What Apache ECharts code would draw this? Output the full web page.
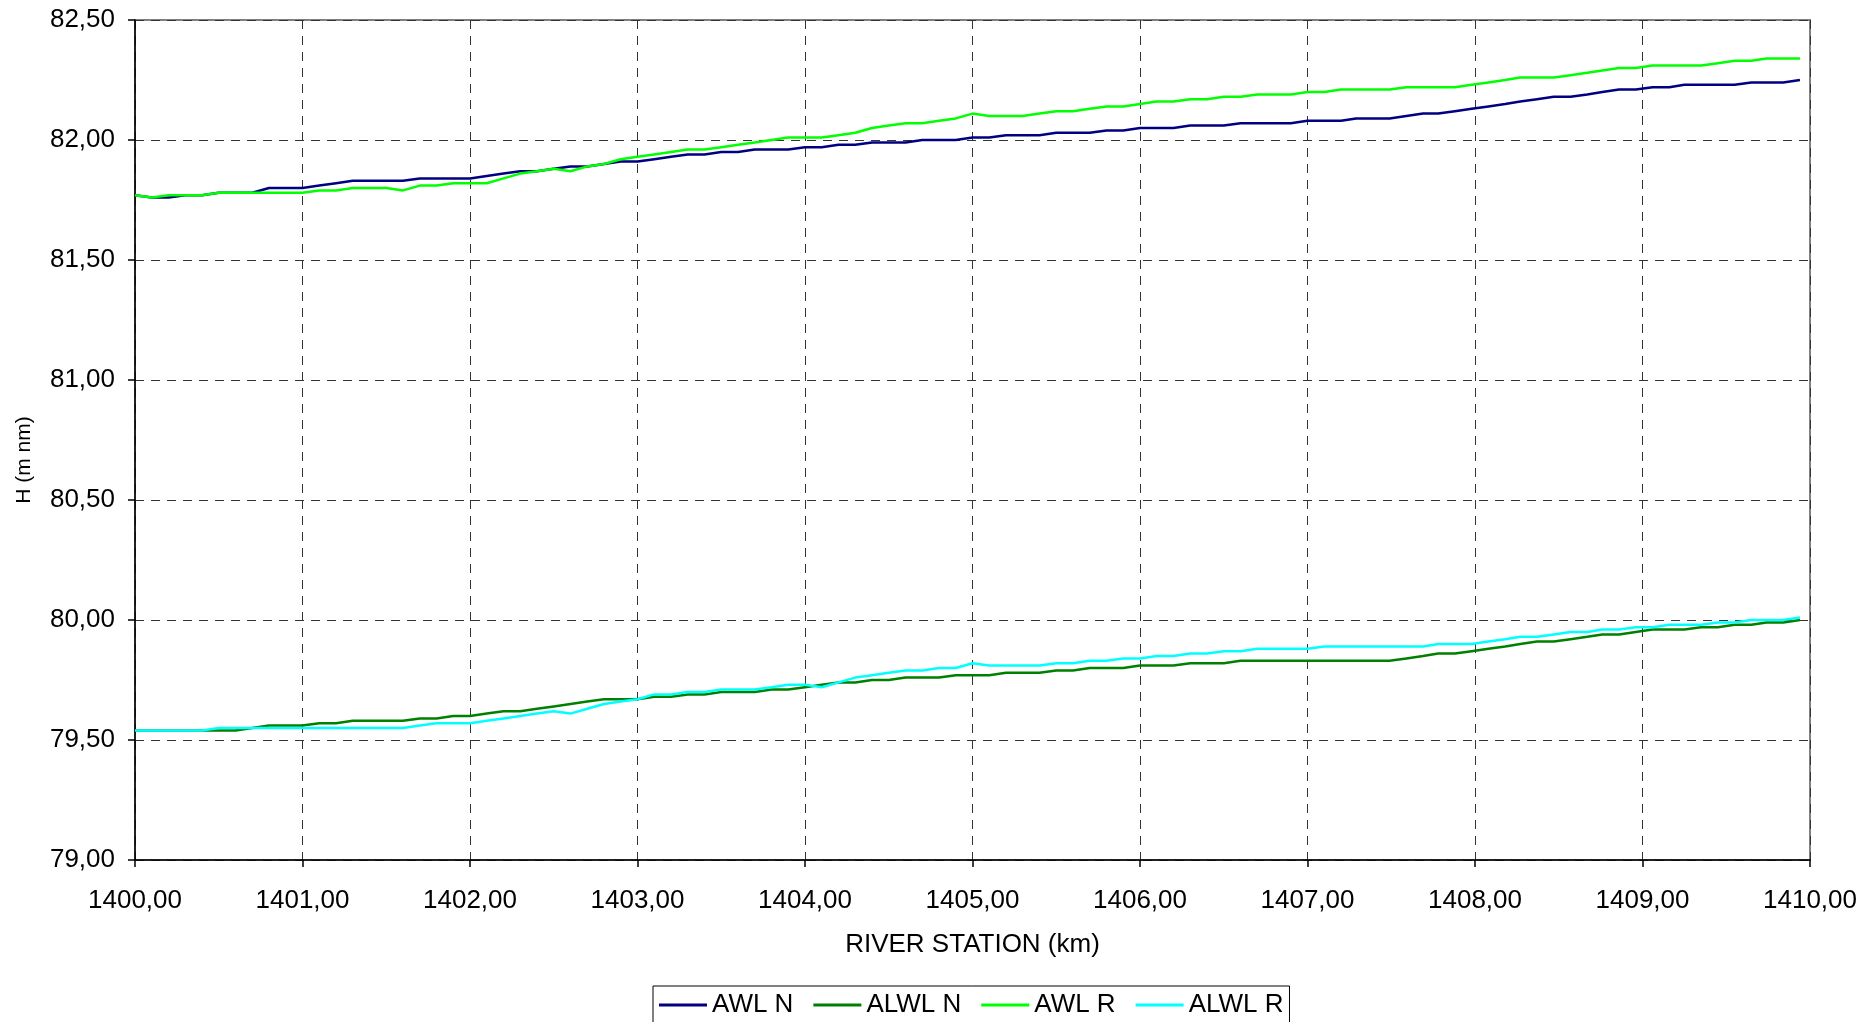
<!DOCTYPE html>
<html>
<head>
<meta charset="utf-8">
<script src="https://cdn.jsdelivr.net/npm/echarts@6/dist/echarts.min.js"></script>
<style>
html,body{margin:0;padding:0;background:#fff;}
#chart{width:1866px;height:1022px;}
</style>
</head>
<body>
<div id="chart"></div>
<script>
// River stations (km)
const stations = [
1400.0,1400.1,1400.2,1400.3,1400.4,1400.5,1400.6,1400.7,1400.8,1400.9,
1401.0,1401.1,1401.2,1401.3,1401.4,1401.5,1401.6,1401.7,1401.8,1401.9,
1402.0,1402.1,1402.2,1402.3,1402.4,1402.5,1402.6,1402.7,1402.8,1402.9,
1403.0,1403.1,1403.2,1403.3,1403.4,1403.5,1403.6,1403.7,1403.8,1403.9,
1404.0,1404.1,1404.2,1404.3,1404.4,1404.5,1404.6,1404.7,1404.8,1404.9,
1405.0,1405.1,1405.2,1405.3,1405.4,1405.5,1405.6,1405.7,1405.8,1405.9,
1406.0,1406.1,1406.2,1406.3,1406.4,1406.5,1406.6,1406.7,1406.8,1406.9,
1407.0,1407.1,1407.2,1407.29,1407.39,1407.49,1407.59,1407.69,1407.78,1407.88,
1407.98,1408.08,1408.18,1408.27,1408.37,1408.47,1408.57,1408.67,1408.76,1408.86,
1408.96,1409.06,1409.16,1409.25,1409.35,1409.45,1409.55,1409.65,1409.74,1409.84,
1409.94
];

const awlN = [
81.77,81.76,81.76,81.77,81.77,81.78,81.78,81.78,81.80,81.80,
81.80,81.81,81.82,81.83,81.83,81.83,81.83,81.84,81.84,81.84,
81.84,81.85,81.86,81.87,81.87,81.88,81.89,81.89,81.90,81.91,
81.91,81.92,81.93,81.94,81.94,81.95,81.95,81.96,81.96,81.96,
81.97,81.97,81.98,81.98,81.99,81.99,81.99,82.00,82.00,82.00,
82.01,82.01,82.02,82.02,82.02,82.03,82.03,82.03,82.04,82.04,
82.05,82.05,82.05,82.06,82.06,82.06,82.07,82.07,82.07,82.07,
82.08,82.08,82.08,82.09,82.09,82.09,82.10,82.11,82.11,82.12,
82.13,82.14,82.15,82.16,82.17,82.18,82.18,82.19,82.20,82.21,
82.21,82.22,82.22,82.23,82.23,82.23,82.23,82.24,82.24,82.24,
82.25
];

const alwlN = [
79.54,79.54,79.54,79.54,79.54,79.54,79.54,79.55,79.56,79.56,
79.56,79.57,79.57,79.58,79.58,79.58,79.58,79.59,79.59,79.60,
79.60,79.61,79.62,79.62,79.63,79.64,79.65,79.66,79.67,79.67,
79.67,79.68,79.68,79.69,79.69,79.70,79.70,79.70,79.71,79.71,
79.72,79.73,79.74,79.74,79.75,79.75,79.76,79.76,79.76,79.77,
79.77,79.77,79.78,79.78,79.78,79.79,79.79,79.80,79.80,79.80,
79.81,79.81,79.81,79.82,79.82,79.82,79.83,79.83,79.83,79.83,
79.83,79.83,79.83,79.83,79.83,79.83,79.84,79.85,79.86,79.86,
79.87,79.88,79.89,79.90,79.91,79.91,79.92,79.93,79.94,79.94,
79.95,79.96,79.96,79.96,79.97,79.97,79.98,79.98,79.99,79.99,
80.00
];

const awlR = [
81.77,81.76,81.77,81.77,81.77,81.78,81.78,81.78,81.78,81.78,
81.78,81.79,81.79,81.80,81.80,81.80,81.79,81.81,81.81,81.82,
81.82,81.82,81.84,81.86,81.87,81.88,81.87,81.89,81.90,81.92,
81.93,81.94,81.95,81.96,81.96,81.97,81.98,81.99,82.00,82.01,
82.01,82.01,82.02,82.03,82.05,82.06,82.07,82.07,82.08,82.09,
82.11,82.10,82.10,82.10,82.11,82.12,82.12,82.13,82.14,82.14,
82.15,82.16,82.16,82.17,82.17,82.18,82.18,82.19,82.19,82.19,
82.20,82.20,82.21,82.21,82.21,82.21,82.22,82.22,82.22,82.22,
82.23,82.24,82.25,82.26,82.26,82.26,82.27,82.28,82.29,82.30,
82.30,82.31,82.31,82.31,82.31,82.32,82.33,82.33,82.34,82.34,
82.34
];

const alwlR = [
79.54,79.54,79.54,79.54,79.54,79.55,79.55,79.55,79.55,79.55,
79.55,79.55,79.55,79.55,79.55,79.55,79.55,79.56,79.57,79.57,
79.57,79.58,79.59,79.60,79.61,79.62,79.61,79.63,79.65,79.66,
79.67,79.69,79.69,79.70,79.70,79.71,79.71,79.71,79.72,79.73,
79.73,79.72,79.74,79.76,79.77,79.78,79.79,79.79,79.80,79.80,
79.82,79.81,79.81,79.81,79.81,79.82,79.82,79.83,79.83,79.84,
79.84,79.85,79.85,79.86,79.86,79.87,79.87,79.88,79.88,79.88,
79.88,79.89,79.89,79.89,79.89,79.89,79.89,79.89,79.90,79.90,
79.90,79.91,79.92,79.93,79.93,79.94,79.95,79.95,79.96,79.96,
79.97,79.97,79.98,79.98,79.98,79.99,79.99,80.00,80.00,80.00,
80.01
];

const seriesNames = ['AWL N', 'ALWL N', 'AWL R', 'ALWL R'];
const seriesColors = ['#000080', '#008000', '#00FF00', '#00FFFF'];
const seriesValues = [awlN, alwlN, awlR, alwlR];

const xTitle = 'RIVER STATION (km)';
const yTitle = 'H (m nm)';

const FONT = '"Liberation Sans", Arial, sans-serif';
const NARROW = '"Liberation Sans Narrow", "Arial Narrow", "Liberation Sans", Arial, sans-serif';
const fmt = v => v.toFixed(2).replace('.', ',');

const chart = echarts.init(document.getElementById('chart'), null, {renderer: 'canvas'});

const series = seriesNames.map((name, k) => ({
  name: name,
  type: 'line',
  data: stations.map((s, i) => [s, seriesValues[k][i]]),
  showSymbol: false,
  symbol: 'none',
  lineStyle: {color: seriesColors[k], width: 2.5},
  itemStyle: {color: seriesColors[k]},
  z: 3
}));

chart.setOption({
  animation: false,
  backgroundColor: '#fff',
  textStyle: {fontFamily: FONT, color: '#000'},
  grid: {
    left: 135, top: 20, right: 56, bottom: 162,
    show: true, borderColor: '#808080', borderWidth: 2, backgroundColor: 'transparent'
  },
  legend: {
    data: seriesNames,
    left: 653,
    top: 986,
    icon: 'rect',
    itemWidth: 48,
    itemHeight: 3,
    itemGap: 20,
    padding: [6, 6, 14, 6],
    borderColor: '#000',
    borderWidth: 1,
    textStyle: {fontFamily: FONT, fontSize: 26, color: '#000'}
  },
  graphic: [{
    type: 'text',
    x: 24,
    y: 460,
    rotation: Math.PI / 2,
    style: {
      text: yTitle,
      font: '21px ' + NARROW,
      fill: '#000',
      textAlign: 'center',
      textVerticalAlign: 'middle'
    }
  }],
  xAxis: {
    type: 'value',
    min: 1400, max: 1410, interval: 1,
    name: xTitle,
    nameLocation: 'middle',
    nameGap: 72,
    nameTextStyle: {fontFamily: FONT, fontSize: 26, color: '#000'},
    axisLine: {show: true, onZero: false, lineStyle: {color: '#000', width: 1.5}},
    axisTick: {show: true, length: 7, inside: false, lineStyle: {color: '#000', width: 1.5}},
    axisLabel: {fontFamily: FONT, fontSize: 26, color: '#000', margin: 28, formatter: fmt},
    splitLine: {show: true, lineStyle: {color: '#333', width: 1, type: [9, 7]}}
  },
  yAxis: {
    type: 'value',
    min: 79, max: 82.5, interval: 0.5,
    axisLine: {show: true, lineStyle: {color: '#000', width: 1.5}},
    axisTick: {show: true, length: 7, inside: false, lineStyle: {color: '#000', width: 1.5}},
    axisLabel: {fontFamily: FONT, fontSize: 26, color: '#000', margin: 20, formatter: fmt},
    splitLine: {show: true, lineStyle: {color: '#333', width: 1, type: [9, 7]}}
  },
  series: series
});
</script>
</body>
</html>
